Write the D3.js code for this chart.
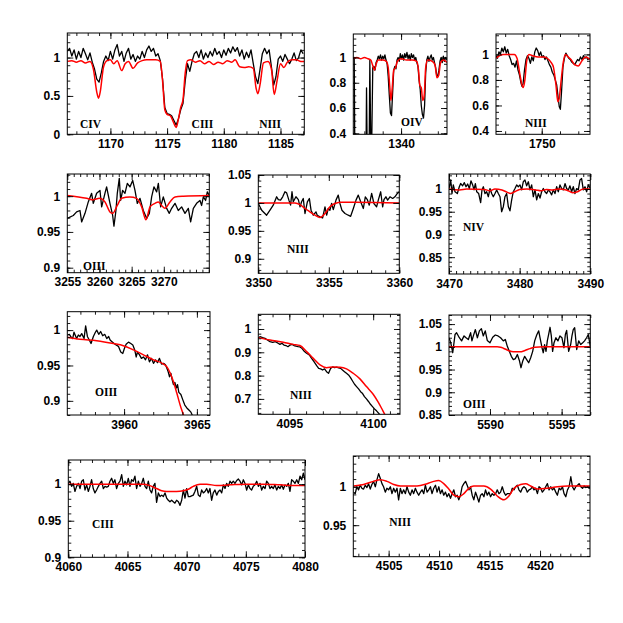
<!DOCTYPE html>
<html>
<head>
<meta charset="utf-8">
<script src="https://cdn.jsdelivr.net/npm/d3@7/dist/d3.min.js"></script>
<style>
  body { margin: 0; background: #fff; }
</style>
</head>
<body>
<div id="fig"></div>
<script>
// spectra: [wavelength (A), normalised flux]; black = observed, red = model

var civObs = [[1166.2,1.08],[1166.4,1.12],[1166.6,1.02],[1166.8,1.10],[1167.0,0.98],[1167.2,1.08],[1167.4,1.00],[1167.6,1.12],[1167.8,1.05],[1168.0,0.97],[1168.2,1.06],[1168.4,0.94],[1168.6,0.85],[1168.8,0.72],[1169.0,0.68],[1169.2,0.80],[1169.4,0.95],[1169.6,1.02],[1169.8,0.96],[1170.0,1.08],[1170.2,0.98],[1170.4,1.10],[1170.6,1.17],[1170.8,1.02],[1171.0,1.08],[1171.2,0.95],[1171.4,1.06],[1171.6,1.12],[1171.8,0.98],[1172.0,1.04],[1172.2,0.95],[1172.4,1.02],[1172.6,0.98],[1172.8,1.08],[1173.0,1.00],[1173.2,1.10],[1173.4,1.15],[1173.6,1.08],[1173.8,1.12],[1174.0,1.02],[1174.2,1.05],[1174.4,0.96],[1174.6,0.72],[1174.8,0.35],[1175.0,0.27],[1175.2,0.26],[1175.4,0.24],[1175.6,0.18],[1175.8,0.12],[1176.0,0.20],[1176.2,0.32],[1176.4,0.40],[1176.6,0.70],[1176.8,0.92],[1177.0,0.82],[1177.2,0.95],[1177.4,1.05],[1177.6,1.08],[1177.8,1.00],[1178.0,1.10],[1178.2,0.98],[1178.4,1.06],[1178.6,1.00],[1178.8,1.08],[1179.0,1.02],[1179.2,1.12],[1179.4,1.04],[1179.6,1.08],[1179.8,1.00],[1180.0,1.10],[1180.2,1.03],[1180.4,1.12],[1180.6,1.06],[1180.8,1.14],[1181.0,1.08],[1181.2,1.13],[1181.4,1.02],[1181.6,1.10],[1181.8,0.98],[1182.0,1.07],[1182.2,1.00],[1182.4,1.10],[1182.6,0.92],[1182.8,0.75],[1183.0,0.66],[1183.2,0.85],[1183.4,1.05],[1183.6,1.12],[1183.8,1.05],[1184.0,1.10],[1184.2,0.88],[1184.4,0.64],[1184.6,0.75],[1184.8,0.98],[1185.0,1.02],[1185.2,0.95],[1185.4,1.04],[1185.6,0.98],[1185.8,0.92],[1186.0,0.98],[1186.2,1.06],[1186.4,0.96],[1186.6,1.00],[1186.8,1.10],[1187.0,1.05]];
var civMod = [[1166.2,0.95],[1166.6,0.96],[1167.0,0.94],[1167.4,0.96],[1167.8,0.93],[1168.2,0.95],[1168.5,0.85],[1168.8,0.55],[1168.95,0.47],[1169.1,0.55],[1169.4,0.88],[1169.7,0.96],[1170.0,0.97],[1170.3,0.92],[1170.6,0.96],[1171.0,0.83],[1171.3,0.92],[1171.6,0.95],[1172.0,0.86],[1172.4,0.93],[1172.8,0.96],[1173.2,0.97],[1173.6,0.97],[1174.0,0.97],[1174.4,0.95],[1174.6,0.70],[1174.8,0.32],[1175.0,0.26],[1175.3,0.24],[1175.55,0.16],[1175.8,0.09],[1176.0,0.20],[1176.2,0.35],[1176.4,0.45],[1176.6,0.80],[1176.8,0.96],[1177.1,0.97],[1177.5,0.94],[1177.9,0.96],[1178.3,0.92],[1178.7,0.95],[1179.1,0.91],[1179.5,0.94],[1179.9,0.92],[1180.3,0.96],[1180.7,0.94],[1181.0,0.97],[1181.4,0.88],[1181.8,0.87],[1182.2,0.88],[1182.6,0.86],[1182.85,0.60],[1183.0,0.53],[1183.2,0.65],[1183.5,0.93],[1183.9,0.95],[1184.2,0.85],[1184.45,0.52],[1184.7,0.70],[1185.0,0.92],[1185.3,0.87],[1185.6,0.94],[1186.0,0.97],[1186.4,0.97],[1186.8,0.95],[1187.1,0.95]];

var oivObs = [[1337.40,0.99],[1337.45,1.00],[1337.48,0.30],[1337.55,0.00],[1338.08,0.00],[1338.12,0.76],[1338.16,0.20],[1338.26,0.20],[1338.30,0.98],[1338.36,0.20],[1338.40,0.30],[1338.46,0.92],[1338.52,0.93],[1338.58,0.90],[1338.64,0.96],[1338.70,0.98],[1338.76,1.01],[1338.82,0.99],[1338.88,1.02],[1338.94,0.98],[1339.00,1.01],[1339.06,0.99],[1339.12,1.02],[1339.18,0.98],[1339.24,0.95],[1339.30,0.85],[1339.36,0.70],[1339.42,0.56],[1339.48,0.54],[1339.54,0.72],[1339.60,0.90],[1339.66,0.93],[1339.72,0.91],[1339.78,0.98],[1339.84,1.00],[1339.90,0.97],[1339.96,1.03],[1340.02,0.99],[1340.08,1.02],[1340.14,0.98],[1340.20,1.03],[1340.26,1.00],[1340.32,1.04],[1340.38,0.99],[1340.44,1.02],[1340.50,0.98],[1340.56,1.03],[1340.62,1.00],[1340.68,1.02],[1340.74,0.98],[1340.80,1.00],[1340.86,0.96],[1340.92,0.93],[1340.98,0.82],[1341.04,0.75],[1341.10,0.62],[1341.16,0.55],[1341.22,0.52],[1341.28,0.62],[1341.34,0.88],[1341.40,0.98],[1341.46,1.01],[1341.52,0.97],[1341.58,1.00],[1341.64,1.02],[1341.70,0.98],[1341.76,1.00],[1341.82,0.96],[1341.88,0.92],[1341.94,0.86],[1342.00,0.85],[1342.06,0.90],[1342.12,0.97],[1342.18,1.00],[1342.24,0.96],[1342.30,1.01],[1342.36,0.97],[1342.42,1.00],[1342.50,0.98]];
var oivMod = [[1337.40,0.99],[1337.60,1.00],[1337.80,0.99],[1338.00,1.00],[1338.20,0.99],[1338.35,0.98],[1338.45,0.94],[1338.55,0.90],[1338.65,0.95],[1338.75,0.98],[1339.00,0.98],[1339.20,0.97],[1339.30,0.92],[1339.38,0.78],[1339.45,0.66],[1339.52,0.76],[1339.60,0.90],[1339.70,0.92],[1339.80,0.97],[1340.00,0.99],[1340.30,0.98],[1340.60,0.98],[1340.85,0.97],[1340.95,0.90],[1341.02,0.78],[1341.10,0.76],[1341.18,0.66],[1341.26,0.70],[1341.34,0.92],[1341.45,0.98],[1341.70,0.97],[1341.85,0.94],[1341.95,0.84],[1342.05,0.86],[1342.15,0.96],[1342.30,0.98],[1342.50,0.96]];

var n1750Obs = [[1747.50,0.99],[1747.58,0.97],[1747.66,1.02],[1747.74,1.00],[1747.82,1.05],[1747.90,1.02],[1747.98,1.06],[1748.06,1.01],[1748.14,1.04],[1748.22,0.99],[1748.30,0.96],[1748.38,0.92],[1748.46,0.93],[1748.54,0.90],[1748.62,0.95],[1748.70,0.88],[1748.78,0.84],[1748.86,0.78],[1748.92,0.75],[1748.98,0.77],[1749.06,0.88],[1749.14,0.96],[1749.22,0.99],[1749.30,0.97],[1749.38,0.93],[1749.46,0.98],[1749.54,0.95],[1749.62,1.02],[1749.70,1.05],[1749.78,1.03],[1749.86,0.99],[1749.94,1.02],[1750.02,0.98],[1750.10,0.99],[1750.18,0.96],[1750.26,0.98],[1750.34,0.95],[1750.42,0.92],[1750.50,0.90],[1750.58,0.86],[1750.66,0.84],[1750.74,0.80],[1750.82,0.76],[1750.90,0.66],[1750.96,0.59],[1751.02,0.57],[1751.08,0.70],[1751.16,0.90],[1751.24,0.97],[1751.32,1.01],[1751.40,0.99],[1751.48,0.97],[1751.56,0.96],[1751.64,0.94],[1751.72,0.93],[1751.80,0.92],[1751.88,0.94],[1751.96,0.96],[1752.04,0.95],[1752.12,0.98],[1752.20,0.96],[1752.28,0.99],[1752.36,0.97],[1752.44,0.98],[1752.52,0.96],[1752.64,0.97]];
var n1750Mod = [[1747.50,0.97],[1747.70,0.99],[1747.90,1.00],[1748.20,1.00],[1748.50,1.00],[1748.65,0.97],[1748.80,0.85],[1748.92,0.76],[1748.99,0.74],[1749.08,0.80],[1749.18,0.95],[1749.30,1.00],[1749.50,0.99],[1749.80,0.98],[1750.10,0.98],[1750.30,0.97],[1750.50,0.94],[1750.64,0.90],[1750.78,0.76],[1750.88,0.63],[1750.95,0.65],[1751.05,0.78],[1751.18,0.94],[1751.30,1.00],[1751.45,0.98],[1751.60,0.96],[1751.80,0.92],[1752.00,0.91],[1752.20,0.95],[1752.40,0.98],[1752.64,0.96]];

var o3260Obs = [[3255.00,0.969],[3255.93,0.973],[3256.45,0.978],[3256.97,0.980],[3257.23,0.964],[3257.75,0.976],[3258.26,0.992],[3258.78,1.004],[3259.04,0.990],[3259.56,1.004],[3260.08,1.008],[3260.34,0.985],[3260.85,1.004],[3261.11,1.013],[3261.63,0.990],[3262.05,0.973],[3262.25,0.958],[3262.56,0.980],[3262.77,1.004],[3263.08,1.025],[3263.29,0.994],[3263.60,1.008],[3263.96,1.004],[3264.33,1.018],[3264.74,1.013],[3265.16,1.022],[3265.52,1.008],[3265.88,0.990],[3266.30,0.997],[3266.81,0.980],[3267.33,0.969],[3267.75,0.976],[3268.11,0.999],[3268.47,1.013],[3268.89,1.006],[3269.15,1.018],[3269.51,0.985],[3269.92,0.999],[3270.44,0.983],[3270.85,0.976],[3271.22,0.983],[3271.74,0.990],[3272.25,0.980],[3272.77,0.985],[3273.29,0.976],[3273.81,0.983],[3274.17,0.964],[3274.59,0.983],[3275.10,0.990],[3275.62,0.994],[3275.88,0.987],[3276.14,0.999],[3276.50,0.994],[3276.76,1.006],[3277.07,1.001]];
var o3260Mod = [[3255.00,1.001],[3258.00,0.997],[3259.00,0.995],[3260.00,0.997],[3260.85,0.992],[3261.63,0.978],[3262.05,0.976],[3262.77,0.987],[3263.44,0.997],[3264.74,0.999],[3265.78,0.997],[3266.56,0.985],[3267.23,0.967],[3267.85,0.985],[3268.63,0.990],[3269.15,0.992],[3269.66,0.987],[3270.18,0.983],[3270.96,0.992],[3271.74,0.999],[3273.03,1.000],[3277.07,1.001]];

var n3355Obs = [[3350.00,0.999],[3350.24,0.987],[3350.59,0.978],[3350.83,0.987],[3351.06,0.996],[3351.30,1.011],[3351.42,1.006],[3351.58,1.005],[3351.73,1.011],[3351.89,1.020],[3352.01,1.018],[3352.17,1.005],[3352.29,0.996],[3352.39,1.020],[3352.48,1.002],[3352.67,1.011],[3352.84,1.006],[3352.96,0.993],[3353.07,1.002],[3353.19,1.008],[3353.31,0.981],[3353.48,1.002],[3353.62,1.008],[3353.74,0.987],[3353.90,0.978],[3354.09,0.984],[3354.18,0.978],[3354.37,0.975],[3354.56,0.973],[3354.73,0.993],[3354.85,0.978],[3354.96,0.990],[3355.08,0.987],[3355.20,0.999],[3355.32,0.988],[3355.51,1.005],[3355.67,1.014],[3355.79,0.999],[3355.93,0.987],[3356.15,0.981],[3356.38,0.978],[3356.55,0.976],[3356.74,0.990],[3356.93,1.005],[3357.09,1.014],[3357.26,1.002],[3357.45,0.990],[3357.59,1.011],[3357.73,1.006],[3357.87,0.996],[3358.04,1.017],[3358.20,0.999],[3358.39,0.993],[3358.51,1.005],[3358.68,1.020],[3358.82,0.993],[3358.91,1.006],[3359.05,1.011],[3359.17,1.005],[3359.34,1.011],[3359.53,1.008],[3359.69,1.011],[3359.86,1.017],[3360.00,1.020]];
var n3355Mod = [[3350.00,1.000],[3352.60,1.000],[3352.96,0.997],[3353.31,0.990],[3353.66,0.984],[3354.02,0.978],[3354.37,0.974],[3354.73,0.981],[3355.08,0.993],[3355.44,0.999],[3355.91,1.001],[3356.86,1.001],[3360.00,1.000]];

var n3480Obs = [[3470.00,1.001],[3470.24,1.020],[3470.42,0.990],[3470.61,1.009],[3470.85,0.994],[3471.18,0.990],[3471.46,1.005],[3471.65,1.012],[3471.93,1.007],[3472.17,1.014],[3472.41,1.005],[3472.64,1.011],[3472.88,1.001],[3473.11,1.018],[3473.35,1.009],[3473.54,0.998],[3473.73,1.012],[3473.92,0.994],[3474.20,0.990],[3474.48,0.970],[3474.67,0.998],[3474.86,1.005],[3475.09,0.990],[3475.33,0.994],[3475.57,0.983],[3475.80,1.001],[3476.04,0.990],[3476.27,0.983],[3476.51,0.990],[3476.75,0.998],[3476.98,0.990],[3477.22,0.983],[3477.45,0.950],[3477.69,0.961],[3477.92,0.983],[3478.16,0.990],[3478.40,0.961],[3478.63,0.952],[3478.87,0.976],[3479.10,0.994],[3479.34,1.001],[3479.58,1.009],[3479.81,1.005],[3480.05,1.009],[3480.28,0.998],[3480.52,1.016],[3480.75,1.020],[3480.99,1.007],[3481.23,1.016],[3481.46,0.998],[3481.70,1.009],[3481.93,0.983],[3482.17,0.998],[3482.41,0.976],[3482.64,0.990],[3482.88,0.980],[3483.11,0.994],[3483.35,1.001],[3483.58,0.994],[3483.82,0.990],[3484.06,0.998],[3484.29,0.994],[3484.53,0.987],[3484.76,0.998],[3485.00,0.990],[3485.24,1.005],[3485.47,0.994],[3485.71,1.009],[3485.94,1.001],[3486.18,0.998],[3486.42,1.012],[3486.65,1.001],[3486.89,0.998],[3487.12,1.007],[3487.36,0.994],[3487.59,1.005],[3487.83,0.990],[3488.07,1.001],[3488.30,0.998],[3488.54,1.020],[3488.77,1.023],[3489.01,0.998],[3489.25,1.005],[3489.48,0.994],[3489.72,1.009],[3490.00,1.001]];
var n3480Mod = [[3470.0,1.000],[3471.5,0.998],[3472.5,1.000],[3475.0,0.999],[3475.8,0.996],[3476.5,1.000],[3477.5,0.998],[3478.2,0.993],[3478.7,0.990],[3479.3,0.994],[3480.0,0.999],[3481.0,1.000],[3482.3,0.998],[3483.0,0.996],[3483.8,0.999],[3484.7,0.998],[3485.5,1.000],[3486.6,0.998],[3487.5,0.992],[3488.2,0.994],[3489.0,1.000],[3490.0,1.000]];

var o3960Obs = [[3956.10,0.993],[3956.24,0.994],[3956.33,0.991],[3956.47,0.988],[3956.56,0.997],[3956.74,0.988],[3956.86,0.993],[3956.97,0.991],[3957.09,0.995],[3957.25,0.988],[3957.36,1.006],[3957.48,0.991],[3957.61,0.986],[3957.73,0.981],[3957.89,0.991],[3958.03,0.997],[3958.12,1.000],[3958.26,0.994],[3958.39,0.998],[3958.53,0.992],[3958.67,0.994],[3958.81,0.988],[3958.94,0.991],[3959.04,0.986],[3959.15,0.984],[3959.31,0.981],[3959.45,0.979],[3959.61,0.977],[3959.77,0.969],[3959.91,0.967],[3960.02,0.974],[3960.14,0.980],[3960.30,0.983],[3960.46,0.981],[3960.60,0.979],[3960.73,0.972],[3960.83,0.962],[3960.92,0.969],[3961.06,0.965],[3961.19,0.960],[3961.33,0.962],[3961.47,0.958],[3961.61,0.965],[3961.74,0.955],[3961.88,0.960],[3962.02,0.953],[3962.16,0.958],[3962.29,0.954],[3962.43,0.960],[3962.57,0.952],[3962.71,0.953],[3962.84,0.951],[3962.94,0.946],[3963.03,0.941],[3963.12,0.934],[3963.21,0.939],[3963.30,0.930],[3963.39,0.923],[3963.49,0.926],[3963.58,0.918],[3963.67,0.923],[3963.76,0.912],[3963.90,0.909],[3964.04,0.901],[3964.17,0.894],[3964.31,0.890],[3964.45,0.887],[3964.59,0.884],[3964.68,0.880],[3964.80,0.876]];
var o3960Mod = [[3956.10,0.990],[3956.97,0.987],[3958.12,0.985],[3959.27,0.981],[3959.95,0.978],[3960.64,0.972],[3961.33,0.965],[3962.02,0.958],[3962.71,0.952],[3962.94,0.948],[3963.17,0.939],[3963.39,0.927],[3963.62,0.911],[3963.85,0.894],[3964.08,0.880],[3964.31,0.866]];

var n4097Obs = [[4093.15,0.960],[4093.25,0.967],[4093.41,0.963],[4093.55,0.960],[4093.69,0.953],[4093.85,0.946],[4094.01,0.943],[4094.17,0.946],[4094.33,0.939],[4094.44,0.934],[4094.56,0.939],[4094.68,0.931],[4094.80,0.929],[4094.92,0.924],[4095.04,0.931],[4095.16,0.934],[4095.28,0.929],[4095.40,0.926],[4095.52,0.924],[4095.63,0.923],[4095.75,0.917],[4095.87,0.906],[4096.03,0.896],[4096.19,0.889],[4096.33,0.874],[4096.47,0.860],[4096.63,0.843],[4096.75,0.831],[4096.87,0.829],[4096.98,0.824],[4097.10,0.829],[4097.22,0.817],[4097.34,0.810],[4097.46,0.831],[4097.58,0.837],[4097.70,0.834],[4097.82,0.836],[4097.94,0.833],[4098.06,0.831],[4098.17,0.824],[4098.29,0.817],[4098.41,0.810],[4098.53,0.803],[4098.65,0.791],[4098.77,0.777],[4098.89,0.763],[4099.01,0.753],[4099.13,0.743],[4099.25,0.731],[4099.37,0.723],[4099.48,0.710],[4099.60,0.700],[4099.72,0.689],[4099.84,0.677],[4099.96,0.667],[4100.08,0.657],[4100.20,0.649],[4100.32,0.639],[4100.44,0.629],[4100.56,0.620]];
var n4097Mod = [[4093.15,0.963],[4093.85,0.953],[4094.64,0.943],[4095.24,0.934],[4095.63,0.929],[4096.03,0.903],[4096.43,0.874],[4096.83,0.846],[4097.22,0.834],[4097.62,0.837],[4098.02,0.836],[4098.41,0.829],[4098.81,0.810],[4099.21,0.786],[4099.60,0.753],[4100.00,0.720],[4100.30,0.686],[4100.50,0.660],[4100.69,0.634],[4100.89,0.610]];

var o5592Obs = [[5587.14,1.020],[5587.26,1.009],[5587.40,0.987],[5587.56,1.027],[5587.67,1.031],[5587.86,1.020],[5588.02,1.013],[5588.19,1.024],[5588.33,1.020],[5588.49,1.016],[5588.65,1.031],[5588.74,1.013],[5588.84,1.024],[5588.98,1.038],[5589.12,1.020],[5589.26,1.035],[5589.40,1.040],[5589.53,1.024],[5589.67,1.035],[5589.81,1.014],[5590.00,1.009],[5590.19,1.021],[5590.37,1.026],[5590.56,1.024],[5590.74,1.020],[5590.93,1.013],[5591.07,1.016],[5591.21,1.001],[5591.35,0.990],[5591.49,0.979],[5591.63,0.972],[5591.77,0.974],[5591.91,0.983],[5592.05,0.970],[5592.16,0.954],[5592.28,0.968],[5592.42,0.979],[5592.56,0.972],[5592.70,0.965],[5592.84,0.976],[5592.98,0.990],[5593.12,1.013],[5593.26,1.026],[5593.40,1.035],[5593.49,1.020],[5593.63,0.998],[5593.72,0.987],[5593.81,1.005],[5593.91,0.990],[5594.00,1.013],[5594.09,1.027],[5594.19,1.043],[5594.28,1.024],[5594.37,0.990],[5594.47,1.009],[5594.60,1.020],[5594.74,1.013],[5594.88,1.024],[5595.02,1.020],[5595.16,0.998],[5595.26,1.027],[5595.35,1.036],[5595.49,0.990],[5595.63,1.005],[5595.72,1.024],[5595.81,1.038],[5595.91,1.042],[5596.05,0.994],[5596.19,1.013],[5596.33,1.005],[5596.47,1.009],[5596.60,1.013],[5596.74,1.020],[5596.86,1.027],[5597.00,1.001]];
var o5592Mod = [[5587.14,1.000],[5590.50,1.000],[5590.74,0.999],[5590.93,0.997],[5591.28,0.992],[5591.63,0.989],[5592.09,0.989],[5592.44,0.992],[5592.79,0.996],[5593.14,0.999],[5593.72,1.000],[5597.00,1.000]];

var c4070Obs = [[4060.00,1.001],[4060.14,1.004],[4060.28,0.997],[4060.42,1.001],[4060.56,0.990],[4060.70,0.997],[4060.85,1.001],[4060.99,0.994],[4061.13,1.004],[4061.27,1.006],[4061.41,0.992],[4061.55,0.999],[4061.69,0.990],[4061.83,0.997],[4061.97,1.006],[4062.11,0.994],[4062.25,0.988],[4062.39,0.992],[4062.54,0.997],[4062.68,1.001],[4062.82,1.004],[4062.96,0.994],[4063.10,0.997],[4063.24,0.996],[4063.38,0.997],[4063.52,1.004],[4063.66,1.008],[4063.80,1.001],[4063.94,1.006],[4064.08,0.994],[4064.23,1.001],[4064.37,1.004],[4064.51,1.013],[4064.65,0.997],[4064.79,1.004],[4064.93,0.999],[4065.07,1.008],[4065.21,0.997],[4065.35,1.006],[4065.49,1.004],[4065.63,1.011],[4065.77,0.994],[4065.92,1.004],[4066.06,0.997],[4066.20,1.001],[4066.34,1.008],[4066.48,0.997],[4066.62,0.994],[4066.76,1.004],[4066.90,0.992],[4067.04,0.988],[4067.18,0.997],[4067.32,1.001],[4067.46,0.975],[4067.61,0.988],[4067.75,0.983],[4067.89,0.985],[4068.03,0.983],[4068.17,0.988],[4068.31,0.981],[4068.45,0.978],[4068.59,0.976],[4068.73,0.978],[4068.87,0.976],[4069.01,0.974],[4069.15,0.978],[4069.30,0.976],[4069.44,0.971],[4069.58,0.978],[4069.72,0.992],[4069.86,0.981],[4070.00,0.994],[4070.14,0.983],[4070.28,0.983],[4070.42,0.984],[4070.56,0.985],[4070.70,0.990],[4070.85,0.997],[4070.99,0.985],[4071.13,0.983],[4071.27,0.992],[4071.41,0.988],[4071.55,0.990],[4071.69,0.994],[4071.83,0.988],[4071.97,0.994],[4072.11,0.978],[4072.25,0.988],[4072.39,0.992],[4072.54,0.985],[4072.68,0.990],[4072.82,0.992],[4072.96,0.988],[4073.10,0.999],[4073.24,0.994],[4073.38,1.001],[4073.52,0.997],[4073.66,1.004],[4073.80,1.001],[4073.94,1.004],[4074.08,1.001],[4074.23,1.005],[4074.37,1.007],[4074.51,1.004],[4074.65,0.999],[4074.79,1.006],[4074.93,1.001],[4075.07,0.992],[4075.21,0.999],[4075.35,0.994],[4075.49,0.992],[4075.63,0.997],[4075.77,0.999],[4075.92,1.004],[4076.06,0.997],[4076.20,1.001],[4076.34,0.992],[4076.48,0.997],[4076.62,0.994],[4076.76,1.004],[4076.90,1.001],[4077.04,0.994],[4077.18,0.997],[4077.32,0.994],[4077.46,0.999],[4077.61,0.992],[4077.75,0.997],[4077.89,0.994],[4078.03,0.999],[4078.17,0.993],[4078.31,0.999],[4078.45,0.997],[4078.59,1.001],[4078.73,0.990],[4078.87,1.006],[4079.01,1.004],[4079.15,1.001],[4079.30,1.006],[4079.44,1.001],[4079.58,1.011],[4079.72,1.006],[4079.86,1.015],[4080.00,1.006]];
var c4070Mod = [[4060.00,1.000],[4062.39,1.000],[4065.21,1.000],[4066.34,1.000],[4066.90,0.998],[4067.46,0.994],[4067.89,0.991],[4068.31,0.990],[4069.15,0.990],[4069.72,0.991],[4070.14,0.993],[4070.56,0.997],[4071.13,1.000],[4071.69,1.000],[4072.54,0.998],[4073.66,0.999],[4075.07,1.000],[4076.48,1.000],[4077.89,0.999],[4079.30,0.998],[4080.00,0.998]];

var n4515Obs = [[4501.52,0.993],[4501.69,0.991],[4501.85,1.000],[4502.02,0.996],[4502.19,1.002],[4502.35,0.998],[4502.52,0.997],[4502.68,1.002],[4502.85,0.999],[4503.01,1.004],[4503.18,0.997],[4503.34,1.003],[4503.51,1.007],[4503.68,1.000],[4503.84,1.009],[4504.01,1.017],[4504.17,1.011],[4504.34,1.004],[4504.50,1.000],[4504.67,0.993],[4504.83,0.998],[4505.00,0.996],[4505.17,1.000],[4505.33,0.991],[4505.50,0.998],[4505.66,0.993],[4505.83,0.998],[4505.99,0.983],[4506.16,0.998],[4506.32,0.991],[4506.49,0.996],[4506.66,0.991],[4506.82,1.000],[4506.99,0.993],[4507.15,0.989],[4507.32,0.996],[4507.48,0.991],[4507.65,0.998],[4507.81,0.993],[4507.98,0.989],[4508.15,0.993],[4508.31,0.996],[4508.48,0.991],[4508.64,1.002],[4508.81,0.993],[4508.97,0.996],[4509.14,1.000],[4509.30,0.991],[4509.47,0.998],[4509.64,1.002],[4509.80,0.993],[4509.97,1.000],[4510.13,0.991],[4510.30,0.996],[4510.46,0.989],[4510.63,0.993],[4510.79,0.987],[4510.96,0.991],[4511.13,0.985],[4511.29,0.991],[4511.46,0.996],[4511.62,0.987],[4511.79,0.989],[4511.95,0.983],[4512.12,0.989],[4512.28,1.000],[4512.45,1.004],[4512.62,1.007],[4512.78,1.002],[4512.95,0.996],[4513.11,1.000],[4513.28,0.989],[4513.44,0.983],[4513.61,0.993],[4513.77,0.987],[4513.94,0.980],[4514.11,0.989],[4514.27,0.991],[4514.44,0.987],[4514.60,0.996],[4514.77,0.989],[4514.93,0.993],[4515.10,0.987],[4515.26,0.991],[4515.43,0.989],[4515.60,0.991],[4515.76,0.996],[4515.93,0.991],[4516.09,0.993],[4516.26,1.000],[4516.42,0.993],[4516.59,0.989],[4516.75,0.991],[4516.92,0.991],[4517.09,0.991],[4517.25,0.998],[4517.42,0.996],[4517.58,1.000],[4517.75,1.002],[4517.91,0.996],[4518.08,0.993],[4518.25,0.998],[4518.41,1.000],[4518.58,0.998],[4518.74,0.993],[4518.91,0.996],[4519.07,0.997],[4519.24,1.000],[4519.40,0.996],[4519.57,0.998],[4519.74,0.991],[4519.90,1.000],[4520.07,0.998],[4520.23,0.993],[4520.40,0.996],[4520.56,1.000],[4520.73,1.004],[4520.89,0.996],[4521.06,1.000],[4521.23,0.996],[4521.39,0.998],[4521.56,0.993],[4521.72,0.989],[4521.89,0.998],[4522.05,0.996],[4522.22,1.000],[4522.38,0.991],[4522.55,0.987],[4522.72,0.996],[4522.88,1.000],[4523.05,1.013],[4523.21,1.000],[4523.38,0.996],[4523.54,1.000],[4523.71,1.002],[4523.87,1.004],[4524.04,1.000],[4524.21,0.998],[4524.37,1.001],[4524.54,0.999],[4524.70,1.000],[4524.87,0.998],[4525.03,1.000]];
var n4515Mod = [[4501.52,1.001],[4502.52,1.003],[4503.51,1.007],[4504.17,1.009],[4504.83,1.007],[4505.50,1.003],[4506.16,1.001],[4507.81,1.001],[4508.81,1.004],[4509.47,1.007],[4509.97,1.008],[4510.46,1.004],[4510.96,0.997],[4511.46,0.989],[4511.95,0.987],[4512.45,0.991],[4512.95,0.998],[4513.44,1.001],[4514.44,1.001],[4515.10,0.997],[4515.76,0.988],[4516.42,0.983],[4516.92,0.988],[4517.42,0.998],[4518.08,1.003],[4518.58,1.004],[4519.07,1.001],[4519.74,0.997],[4520.73,0.998],[4521.72,1.000],[4522.72,1.001],[4524.04,1.001],[4525.03,1.001]];

// tick labels per panel
var xLab = [[1170,1175,1180,1185],[1340],[1750],[3255,3260,3265,3270],[3350,3355,3360],[3470,3480,3490],[3960,3965],[4095,4100],[5590,5595],[4060,4065,4070,4075,4080],[4505,4510,4515,4520]];
var yLab = [[0,0.5,1],[0.4,0.6,0.8,1],[0.4,0.6,0.8,1],[0.9,0.95,1],[0.9,0.95,1,1.05],[0.85,0.9,0.95,1],[0.9,0.95,1],[0.7,0.8,0.9,1],[0.85,0.9,0.95,1,1.05],[0.9,0.95,1],[0.95,1]];
// ion names with anchor [wavelength, flux]
var ionLab = [
  [["CIV",1167.32,0.076],["CIII",1177.16,0.076],["NIII",1183.13,0.076]],
  [["OIV",1340.0,0.46]],
  [["NIII",1749.09,0.43]],
  [["OIII",3257.44,0.897]],
  [["NIII",3352.04,0.910]],
  [["NIV",3471.98,0.908]],
  [["OIII",3958.0,0.907]],
  [["NIII",4095.04,0.698]],
  [["OIII",5588.12,0.865]],
  [["CIII",4062.0,0.940]],
  [["NIII",4505.05,0.949]]
];

var spectra = [[civObs,civMod],[oivObs,oivMod],[n1750Obs,n1750Mod],[o3260Obs,o3260Mod],[n3355Obs,n3355Mod],[n3480Obs,n3480Mod],[o3960Obs,o3960Mod],[n4097Obs,n4097Mod],[o5592Obs,o5592Mod],[c4070Obs,c4070Mod],[n4515Obs,n4515Mod]];

// layout: pixel box [x0,y0,x1,y1], axis ranges, minor steps
var panels = [
  {box:[67.3,33,304.3,134.3], xd:[1166.2,1187.1], yd:[0,1.32],      xm:1, ym:0.1},
  {box:[353.3,34,447,134.3],  xd:[1337.4,1342.5], yd:[0.392,1.186], xm:1, ym:0.05},
  {box:[496,34,590,134.3],    xd:[1747.5,1752.64],yd:[0.374,1.16],  xm:1, ym:0.05},
  {box:[67.3,174,209.3,272.7],xd:[3255,3277.07],  yd:[0.893,1.031], xm:1, ym:0.01},
  {box:[258.3,175,399.3,273.3],xd:[3350,3360],    yd:[0.874,1.05],  xm:1, ym:0.01},
  {box:[449,174,590.3,274],   xd:[3470,3490],     yd:[0.813,1.033], xm:1, ym:0.01},
  {box:[67.3,311.7,210,415],  xd:[3956.1,3965.9], yd:[0.88,1.026],  xm:1, ym:0.01},
  {box:[258.3,314.3,400,414.3],xd:[4093.15,4101.6],yd:[0.634,1.063],xm:1, ym:0.02},
  {box:[449,315,590.3,415],   xd:[5587.14,5597],  yd:[0.85,1.07],   xm:1, ym:0.01},
  {box:[68.3,460,305,557.3],  xd:[4060,4080],     yd:[0.9,1.033],   xm:1, ym:0.01},
  {box:[353.3,456,590,556.7], xd:[4501.5,4524.95],yd:[0.909,1.04],  xm:1, ym:0.01}
];

var svg = d3.select("#fig").append("svg")
    .attr("width", 623)
    .attr("height", 623);

var fmt = d3.format("~g");

function minorTicks(dom, step) {
  var a = Math.ceil(dom[0] / step - 1e-6), b = Math.floor(dom[1] / step + 1e-6);
  return d3.range(a, b + 1).map(function(k) { return +(k * step).toFixed(4); });
}

function styleAxis(sel) {
  sel.select(".domain").remove();
  sel.selectAll("line").attr("stroke", "#000").attr("stroke-width", 0.9);
  sel.attr("font-family", "'Liberation Sans', Arial, sans-serif")
     .attr("font-size", 12)
     .attr("font-weight", "bold");
}

panels.forEach(function(p, i) {
  var w = p.box[2] - p.box[0], h = p.box[3] - p.box[1];
  var x = d3.scaleLinear().domain(p.xd).range([0, w]);
  var y = d3.scaleLinear().domain(p.yd).range([h, 0]);
  var g = svg.append("g").attr("transform", "translate(" + p.box[0] + "," + p.box[1] + ")");

  g.append("clipPath").attr("id", "clip" + i)
    .append("rect").attr("width", w).attr("height", h);

  var body = g.append("g").attr("clip-path", "url(#clip" + i + ")");
  var obsLine = d3.line().x(function(d) { return x(d[0]); }).y(function(d) { return y(d[1]); });
  var modLine = d3.line().curve(d3.curveMonotoneX).x(function(d) { return x(d[0]); }).y(function(d) { return y(d[1]); });

  body.append("path").datum(spectra[i][0])
    .attr("d", obsLine).attr("fill", "none")
    .attr("stroke", "#000").attr("stroke-width", 1.3).attr("stroke-linejoin", "round");
  body.append("path").datum(spectra[i][1])
    .attr("d", modLine).attr("fill", "none")
    .attr("stroke", "#ff0000").attr("stroke-width", 1.5);

  var xMin = minorTicks(p.xd, p.xm), yMin = minorTicks(p.yd, p.ym);

  // bottom / top
  g.append("g").attr("transform", "translate(0," + h + ")")
    .call(d3.axisBottom(x).tickValues(xLab[i]).tickSize(-6).tickPadding(5).tickFormat(fmt)).call(styleAxis);
  g.append("g").attr("transform", "translate(0," + h + ")")
    .call(d3.axisBottom(x).tickValues(xMin).tickSize(-3).tickFormat("")).call(styleAxis);
  g.append("g")
    .call(d3.axisTop(x).tickValues(xLab[i]).tickSize(-6).tickFormat("")).call(styleAxis);
  g.append("g")
    .call(d3.axisTop(x).tickValues(xMin).tickSize(-3).tickFormat("")).call(styleAxis);
  // left / right
  g.append("g")
    .call(d3.axisLeft(y).tickValues(yLab[i]).tickSize(-6).tickPadding(7).tickFormat(fmt)).call(styleAxis);
  g.append("g")
    .call(d3.axisLeft(y).tickValues(yMin).tickSize(-3).tickFormat("")).call(styleAxis);
  g.append("g").attr("transform", "translate(" + w + ",0)")
    .call(d3.axisRight(y).tickValues(yLab[i]).tickSize(-6).tickFormat("")).call(styleAxis);
  g.append("g").attr("transform", "translate(" + w + ",0)")
    .call(d3.axisRight(y).tickValues(yMin).tickSize(-3).tickFormat("")).call(styleAxis);

  g.append("rect").attr("width", w).attr("height", h)
    .attr("fill", "none").attr("stroke", "#000").attr("stroke-width", 1);

  g.selectAll(".ion").data(ionLab[i]).enter().append("text")
    .attr("class", "ion")
    .attr("x", function(d) { return x(d[1]); })
    .attr("y", function(d) { return y(d[2]); })
    .attr("font-family", "'Liberation Serif', 'Times New Roman', serif")
    .attr("font-weight", "bold")
    .attr("font-size", 11.5)
    .text(function(d) { return d[0]; });
});
</script>
</body>
</html>
